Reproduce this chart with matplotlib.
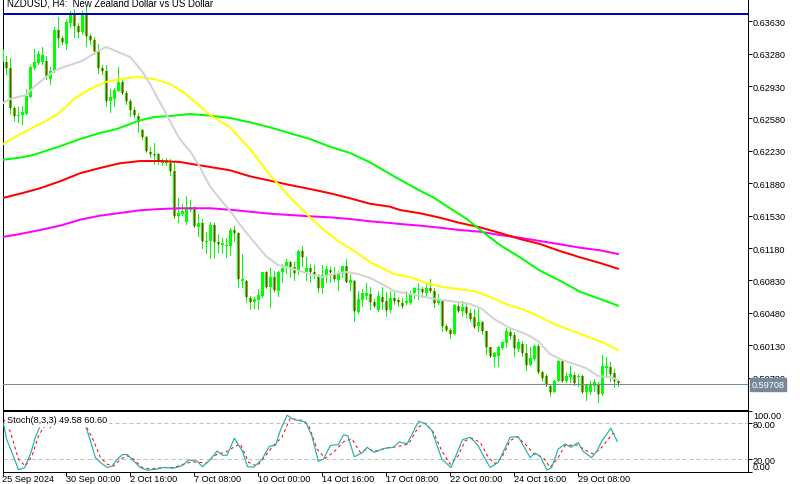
import numpy as np
import matplotlib
matplotlib.use("Agg")
import matplotlib.pyplot as plt

plt.rcParams['font.family'] = ['Liberation Sans', 'DejaVu Sans']

TITLE = "NZDUSD, H4:  New Zealand Dollar vs US Dollar"
STOCH_LABEL = "Stoch(8,3,3) 49.58 60.60"
LAST_PRICE = 0.59708
RES_LEVEL = 0.63708

# price in points (1e-5). first entry is the clipped candle at the left edge
opens = [63186,63186,63121,62689,62603,62617,62628,62815,63121,63179,63193,63200,63006,63092,63539,63452,63388,63611,63697,63575,63517,63704,63467,63424,63312,63121,63092,62772,62790,62880,62977,62851,62772,62675,62603,62452,62376,62221,62196,62192,62095,62099,62099,
 62016,61530,61548,61465,61595,61620,61411,61447,61242,61253,61429,61249,61217,61202,61206,61379,61343,60821,60821,60644,60601,60623,60666,60918,60756,60864,60720,60918,60983,61026,60972,60943,61145,60918,60961,60925,60893,60745,60882,60947,60900,60839,60896,60983,60803,60821,60493,60623,60666,60684,60594,60515,
 60648,60605,60515,60641,60619,60587,60583,60587,60691,60731,60738,60691,60749,60720,60587,60612,60342,60299,60256,60558,60504,60540,60475,60432,60335,60378,60281,60108,60000,60018,60097,60155,60270,60241,60090,60144,60043,59921,59982,60126,59845,59802,59694,59629,59748,59957,59748,59791,59813,59791,59795,59629,59629,59687,59712,59604,59885,59892,59827,59741]
highs = [63330,63258,63229,62718,62700,62711,62898,63157,63330,63312,63348,63258,63132,63564,63672,63474,63654,63744,63762,63611,63744,63798,63492,63456,63384,63157,63157,62898,62905,63132,63006,62880,62790,62700,62639,62466,62394,62268,62315,62207,62142,62149,62142,
 62106,61717,61656,61739,61699,61627,61548,61494,61357,61458,61451,61332,61285,61285,61393,61415,61357,61116,60839,60659,60648,60738,60925,60936,60961,60936,60936,61008,61062,61044,61026,61163,61199,61080,61008,60997,60900,60997,60990,60972,60972,60936,60990,61062,60900,60835,60720,60738,60803,60756,60630,60720,
 60756,60702,60720,60720,60648,60637,60720,60720,60756,60803,60756,60803,60846,60745,60684,60623,60360,60313,60576,60594,60612,60601,60522,60522,60529,60396,60288,60115,60054,60119,60169,60313,60306,60277,60198,60180,60144,60108,60133,60144,59856,59820,59712,59759,59975,59964,59838,59903,59838,59820,59809,59712,59748,59766,59737,60025,60000,59946,59874,59759]
lows = [63060,63060,62628,62556,62545,62520,62628,62808,63114,63168,63168,63006,62952,63085,63348,63384,63330,63564,63456,63456,63492,63366,63384,63276,63071,63060,62711,62646,62718,62880,62844,62736,62603,62592,62437,62358,62214,62160,62088,62088,62081,62081,61969,
 61501,61458,61537,61440,61584,61404,61314,61177,61127,61073,61069,61134,61123,61087,61109,61260,60756,60756,60601,60522,60529,60522,60655,60745,60540,60702,60659,60817,60911,60864,60839,60900,60990,60839,60817,60853,60709,60695,60810,60817,60828,60731,60864,60817,60731,60396,60479,60558,60630,60522,60540,60504,
 60522,60443,60493,60576,60558,60529,60576,60576,60637,60630,60648,60648,60702,60540,60576,60288,60288,60205,60252,60486,60450,60432,60396,60313,60288,60252,60036,60000,59903,59903,60090,60108,60198,60018,60072,60018,59867,59917,59975,59831,59759,59687,59579,59622,59748,59737,59730,59737,59701,59694,59615,59543,59604,59640,59514,59593,59784,59748,59676,59687]
closes = [63330,63121,62689,62610,62617,62653,62826,63132,63193,63276,63265,63042,63092,63539,63452,63402,63625,63704,63575,63517,63697,63467,63424,63312,63121,63092,62772,62808,62891,62977,62855,62772,62675,62617,62545,62376,62228,62196,62189,62124,62113,62128,62016,
 61530,61559,61584,61609,61620,61422,61451,61253,61260,61429,61249,61228,61235,61213,61375,61343,60846,60846,60648,60601,60630,60673,60918,60756,60864,60727,60918,60961,61026,60972,60911,61145,61087,60961,60918,60893,60745,60893,60954,60918,60846,60900,60983,60810,60835,60497,60630,60695,60695,60594,60558,60659,
 60601,60515,60641,60612,60594,60551,60605,60684,60749,60738,60702,60749,60720,60587,60623,60342,60299,60256,60565,60504,60540,60475,60414,60331,60378,60281,60108,60011,60047,60112,60162,60284,60234,60097,60162,60043,59921,59996,60126,59838,59773,59701,59629,59748,59957,59748,59802,59820,59719,59802,59622,59701,59701,59730,59604,59903,59903,59820,59748,59719]

ma_gray_i = [-0.75,1,5,7,10,13,16,19,21,23,25,28,31,34,36,39,41,43,45,46,48.5,51,53.5,56,59,62,65,68,71,75,79,82,85,88,91,94,97,101,106,109,113,116,119,122,126,130,133,136,139,142,145,148,151,153]
ma_gray = [62747,62790,62833,62920,63028,63114,63157,63200,63254,63308,63352,63298,63244,63092,62952,62714,62552,62390,62272,62232,62052,61847,61710,61584,61404,61246,61094,60997,60965,60911,60868,60900,60922,60900,60857,60792,60716,60684,60641,60619,60598,60576,60522,60414,60317,60252,60176,60036,59971,59928,59885,59798,59788,59755]
ma_yellow_i = [-0.75,5,9,13,17,21,25,29,33,37,41,45,46.4,51,56,61,66,71,76,79,83,87,91,94,97,101,105,109,113,117,121,125,129,133,137,141,145,149,153]
ma_yellow = [62304,62444,62531,62628,62790,62898,62974,63006,63028,63006,62952,62844,62790,62617,62484,62250,61969,61728,61512,61394,61256,61148,61030,60965,60900,60868,60803,60760,60738,60716,60652,60576,60522,60446,60360,60295,60230,60166,60079]
ma_green_i = [-0.8,3.5,6.8,9.3,13.5,18.5,23.5,27.7,33,37,41,46,51,56,61,66,71,76,81,86,91,96,98.5,103.5,106.8,111,115.2,118.5,123.5,128.5,133.5,138.5,143.5,148.5,153]
ma_green = [62134,62156,62185,62221,62279,62358,62423,62466,62552,62596,62606,62628,62610,62585,62538,62484,62420,62358,62275,62207,62106,61980,61918,61800,61728,61610,61494,61378,61213,61080,60936,60828,60709,60630,60558]
ma_red_i = [-0.8,3.5,8.5,13.5,18.5,23.5,28.5,33.5,38.5,43.5,46,51,56,61,66,71,76,81,86,91,96,98.5,103.5,108.5,113.5,118.5,123.5,128.5,133.5,138.5,143.5,148.5,153]
ma_red = [61721,61767,61826,61901,61988,62045,62096,62120,62120,62110,62091,62056,62020,61955,61908,61861,61818,61772,61718,61659,61627,61591,61556,61508,61451,61404,61343,61278,61224,61148,61080,61019,60957]
ma_mag_i = [-0.8,3.5,8.5,13.5,18.5,23.5,28.5,33.5,38.5,43.5,46,51,56,61,66,71,76,81,86,91,96,98.5,103.5,108.5,113.5,118.5,123.5,128.5,133.5,138.5,143.5,148.5,153]
ma_mag = [61300,61332,61375,61422,61486,61530,61559,61588,61602,61610,61610,61610,61594,61573,61551,61537,61523,61512,61494,61469,61451,61440,61422,61400,61375,61357,61321,61292,61256,61221,61184,61156,61116]

k_i = [-0.75,0,1.5,3,4.5,6,7.25,8.5,10,11,12,14,16,18,19.75,21,22.25,23.5,25.2,26.4,27.7,29,30.2,31.4,33.5,35.2,37.7,39.3,41.8,43.9,45.6,47.7,49,50.6,52.7,54,55.2,57,59,60.3,61.8,63.9,65.8,67.3,68.5,70.2,71.8,74.8,76.4,78,79.3,81,83,84.3,85.4,87,88.9,90.2,92,94.3,96.8,98.3,100.2,103.1,104.75,106.4,108.9,111.2,114.1,116,118,119.3,121,123,126,128,131,132.25,133.5,135.2,136.4,138,139.75,141.2,143,144.3,146.4,147.7,149,151.2,152.8]
k_v = [79,54,29,3,6,29,57,77,83,72,80,88,90,85,76,51,23,15,6.6,9,20,28,28,20,6.6,2,4,6.6,5.5,9.4,19,17,8,17,34,27,27,55,34,8,7,20,42,43,68,93,86,82,59,17,20.5,43,44.4,60.5,59,24.4,30.5,40,31.6,38,40,49,45.5,83,79,68,20.5,6.6,52.7,56.6,42.7,26,6.6,15,56.6,57.7,23,30.5,25,2.7,6.6,37,45.5,40,48,33,23,34,51,71.6,49.6]
d_i = [-0.75,1,3,4.75,6.4,8,9.3,11,13,15,17,19.75,21.8,23.5,25.2,26.8,28.5,30.2,31.8,33.9,36,39.3,41.8,44.3,46.4,48.5,50,52.7,54.75,56.8,58.5,60.6,62.7,64.75,66.8,68.9,71,73.9,75.6,77.7,79.75,81.8,84.3,86.4,88.5,90.2,92.7,95.2,97.7,100.6,103,104.75,106.8,108.9,111,113,114.75,116.4,118.5,120.6,122.25,123.9,126,127.7,129.75,131.8,134.3,136,138,139.75,142.7,145.2,146.8,148.5,150.6,151.8,152.8]
d_v = [87,65,20,9,26,59,73,78,84,88,86,77,51,23,12,9,20,26,20.5,6.6,4,6.6,6.6,12,16,15,14,29,31.6,40,45.5,15,9,26,43,56.6,88,84.4,76,37,21.6,31.6,49,54,31.6,37,34,39,41,45.5,73,80,65,34,12,26,51,55,48,23,13,23,51,57.7,45.5,30,23,6.6,23,43,44,34,29,37,54,63,60.6]

price_ticks = [0.63630,0.63280,0.62930,0.62580,0.62230,0.61880,0.61530,0.61180,0.60830,0.60480,0.60130,0.59780]
stoch_ticks = [100,80,20,0]
date_idx = [-1,15,31,47,63,79,95,111,127,143]
date_labels = ["25 Sep 2024","30 Sep 00:00","2 Oct 16:00","7 Oct 08:00","10 Oct 00:00","14 Oct 16:00","17 Oct 08:00","22 Oct 00:00","24 Oct 16:00","29 Oct 08:00"]

W, H = 800, 485
fig = plt.figure(figsize=(8, 4.85), dpi=100, facecolor='white')
L, R = 2.5, 747.5
ax = fig.add_axes([L/W, 1-410.5/H, (R-L)/W, 410.5/H])
ax2 = fig.add_axes([L/W, 1-472.5/H, (R-L)/W, 60.5/H])

PX = 0.72
idx = np.arange(-1, 154)
O, Hi, Lo, C = [np.array(a)/1e5 for a in (opens, highs, lows, closes)]
GREEN, RED = '#00FF00', '#FF0000'

ax.vlines(idx, Lo, Hi, color=GREEN, lw=PX, zorder=2, antialiased=False)
ax.bar(idx, np.abs(C-O), bottom=np.minimum(O, C), width=0.75, color=GREEN, lw=0, zorder=3, antialiased=False)
bear = C < O
ax.vlines(idx[bear], C[bear], O[bear], color=RED, lw=PX, zorder=4, antialiased=False)

for xs, ys, col in [(ma_mag_i, ma_mag, '#FF00FF'), (ma_red_i, ma_red, RED), (ma_green_i, ma_green, GREEN),
                    (ma_yellow_i, ma_yellow, '#FFFF00'), (ma_gray_i, ma_gray, '#D3D3D3')]:
    ax.plot(xs, np.array(ys)/1e5, color=col, lw=2*PX, zorder=5, solid_joinstyle='round')

ax.axhline(RES_LEVEL, color='#0000CD', lw=2*PX, zorder=6)
ax.axhline(LAST_PRICE, color='#778899', lw=PX, zorder=6)

xlim = ((L-6)/4, (R-6)/4)
ax.set_xlim(*xlim)
ax.set_ylim(0.6387-410.5*0.000108, 0.6387)
ax.set_xticks([])
ax.yaxis.tick_right()
ax.set_yticks(price_ticks)
ax.set_yticklabels([f"{p:.5f}" for p in price_ticks])
ax.tick_params(axis='y', length=2.9, width=PX, pad=1, labelsize=6.6, color='black', labelcolor='black')
ax.spines['top'].set_visible(False)
for sp in ('left', 'right', 'bottom'):
    ax.spines[sp].set_linewidth(PX)

ax.annotate(f"{LAST_PRICE:.5f}", xy=(1, LAST_PRICE), xycoords=('axes fraction', 'data'),
            xytext=(4, 0), textcoords='offset pixels', va='center', ha='left', fontsize=6.6, color='white',
            bbox=dict(fc='#778899', ec='#778899', pad=1.2), annotation_clip=False, zorder=10)

fig.text(7/W, 1-6/H, TITLE, fontsize=6.9, va='baseline', ha='left', color='black')

ax2.axhline(80, color='#C0C0C0', lw=PX, ls=(0, (4, 3)), zorder=1)
ax2.axhline(20, color='#C0C0C0', lw=PX, ls=(0, (4, 3)), zorder=1)
ax2.plot(d_i, d_v, color=RED, lw=PX, ls=(0, (3, 3)), zorder=2)
ax2.plot(k_i, k_v, color='#20B2AA', lw=0.85, zorder=3)
ax2.set_xlim(*xlim)
ax2.set_ylim(0, 100)
ax2.text((7-L)/(R-L), (472.5-421)/60.5, STOCH_LABEL, transform=ax2.transAxes, fontsize=6.6, va='center', ha='left',
         color='black', zorder=8, bbox=dict(fc='white', ec='white', pad=0.8))
ax2.yaxis.tick_right()
ax2.set_yticks(stoch_ticks)
labels = ax2.set_yticklabels([f"{v:.2f}" for v in stoch_ticks])
labels[0].set_va('top')
labels[3].set_va('bottom')
ax2.tick_params(axis='y', length=2.9, width=PX, pad=1, labelsize=6.6)
ax2.set_xticks(date_idx)
ax2.set_xticklabels(date_labels, ha='left')
ax2.tick_params(axis='x', length=2.9, width=PX, pad=-1, labelsize=6.6)
for sp in ax2.spines.values():
    sp.set_linewidth(PX)

fig.savefig('out.png', dpi=100, facecolor='white')
